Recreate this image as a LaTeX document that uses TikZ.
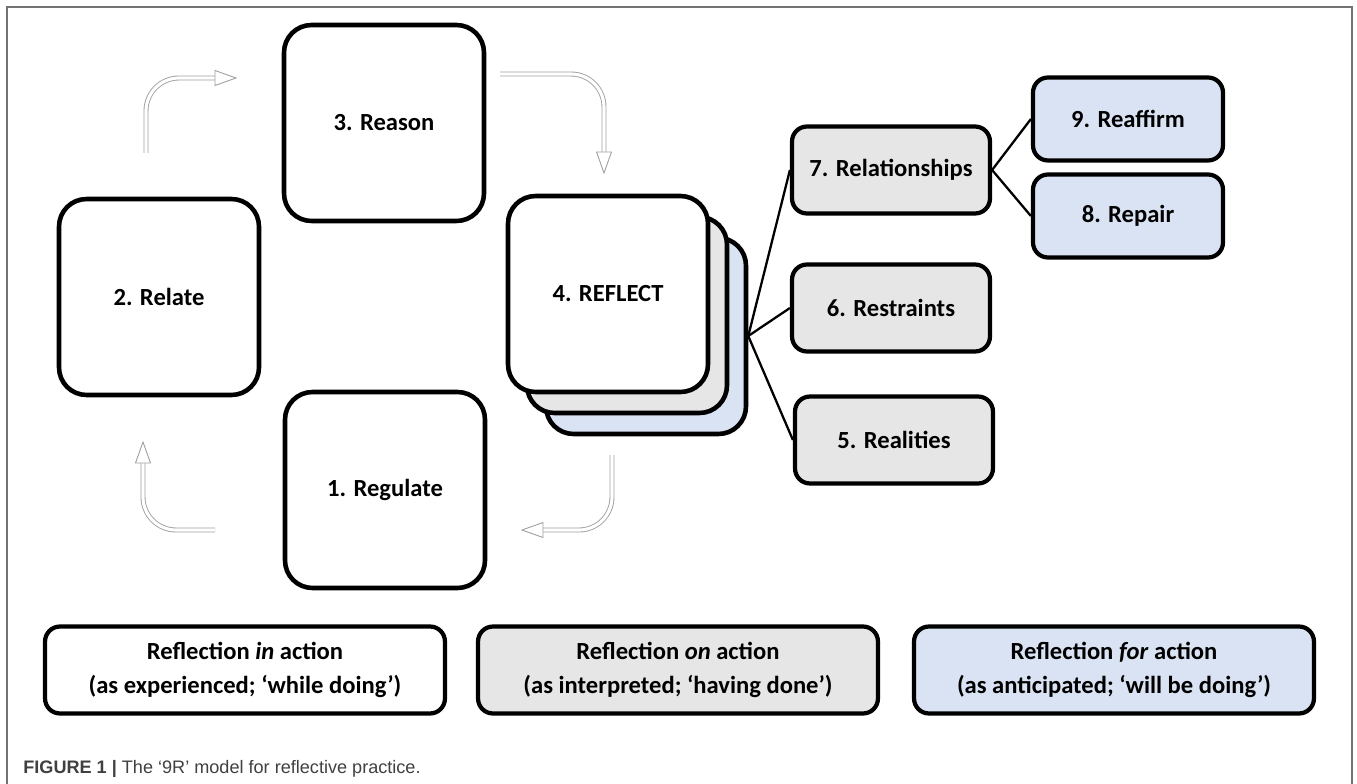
\documentclass[tikz,border=0pt]{standalone}
\usepackage{fontspec}
\setmainfont{Carlito}
\newfontfamily\capfont{Liberation Sans}
\usetikzlibrary{positioning}

\definecolor{ongray}{HTML}{E7E6E6}
\definecolor{forblue}{HTML}{DAE3F3}

\begin{document}
\begin{tikzpicture}[
    x=0.02cm, y=-0.02cm,
    % Box styles
    bigbox/.style={rectangle, rounded corners=0.55cm, draw=black, line width=2.6pt, fill=white, minimum width=4.0cm, minimum height=3.92cm, font=\fontsize{14}{17}\selectfont\bfseries},
    smallbox/.style={rectangle, rounded corners=0.3cm, draw=black, line width=2.4pt, fill=ongray, minimum width=3.96cm, minimum height=1.74cm, font=\fontsize{14}{17}\selectfont\bfseries},
    leafbox/.style={smallbox, fill=forblue, minimum width=3.8cm, minimum height=1.66cm},
    modebox/.style={rectangle, rounded corners=0.3cm, draw=black, line width=2.4pt, minimum width=8.0cm, minimum height=1.74cm, align=center, font=\fontsize{14}{19}\selectfont\bfseries},
    % Connector styles
    link/.style={black, line width=1.3pt},
    loopline/.style={draw=gray!75, double=white, double distance=1.8pt, line width=0.5pt, rounded corners=0.66cm},
    loophead/.style={draw=gray!75, fill=white, line width=0.5pt, line join=miter},
    % Frame style
    frame/.style={black!55, line width=1pt}
]
    \useasboundingbox (0,0) rectangle (1357,784);

    % === FRAME ===
    \draw[frame] (7,784) -- (7,7) -- (1352,7) -- (1352,784);

    % === CYCLE ===
    \node[bigbox] (r3) at (384,123) {3. Reason};
    \node[bigbox] (r2) at (159,297) {2. Relate};
    \node[bigbox] (r1) at (385,490) {1. Regulate};

    % Stacked REFLECT boxes
    \node[bigbox, fill=forblue] (r4c) at (646,336) {};
    \node[bigbox, fill=ongray] (r4b) at (627,315) {};
    \node[bigbox] (r4a) at (608,294) {4. REFLECT};

    % Cycle arrows
    \draw[loopline] (146,153) -- (146,78) -- (215,78);
    \draw[loophead] (215,70.5) -- (236,78) -- (215,85.5) -- cycle;

    \draw[loopline] (500,74) -- (604,74) -- (604,152);
    \draw[loophead] (596.5,152) -- (604,173) -- (611.5,152) -- cycle;

    \draw[loopline] (612,455) -- (612,530) -- (543,530);
    \draw[loophead] (543,522.5) -- (522,530) -- (543,537.5) -- cycle;

    \draw[loopline] (215,530) -- (143,530) -- (143,463);
    \draw[loophead] (135.5,463) -- (143,442) -- (150.5,463) -- cycle;

    % === AFTER REFLECTION ===
    \node[smallbox] (r7) at (891,170) {7. Relationships};
    \node[smallbox] (r6) at (891,308) {6. Restraints};
    \node[smallbox] (r5) at (894,440) {5. Realities};

    \node[leafbox] (r9) at (1128,119) {9. Reaffirm};
    \node[leafbox] (r8) at (1128,216) {8. Repair};

    \draw[link] (r4c.east) -- (r7.west);
    \draw[link] (r4c.east) -- (r6.west);
    \draw[link] (r4c.east) -- (r5.west);
    \draw[link] (r7.east) -- (r9.west);
    \draw[link] (r7.east) -- (r8.west);

    % === MODES OF REFLECTION ===
    \node[modebox, fill=white] (inact) at (245,670) {Reflection \textit{in} action\\(as experienced; ‘while doing’)};
    \node[modebox, fill=ongray] (onact) at (678,670) {Reflection \textit{on} action\\(as interpreted; ‘having done’)};
    \node[modebox, fill=forblue] (foract) at (1114,670) {Reflection \textit{for} action\\(as anticipated; ‘will be doing’)};

    % === CAPTION ===
    \node[anchor=base west, inner sep=0pt, text=black!75, font=\capfont\fontsize{10.3}{12}\selectfont] (caption) at (23,773) {\textbf{FIGURE 1 |} The ‘9R’ model for reflective practice.};

\end{tikzpicture}
\end{document}
